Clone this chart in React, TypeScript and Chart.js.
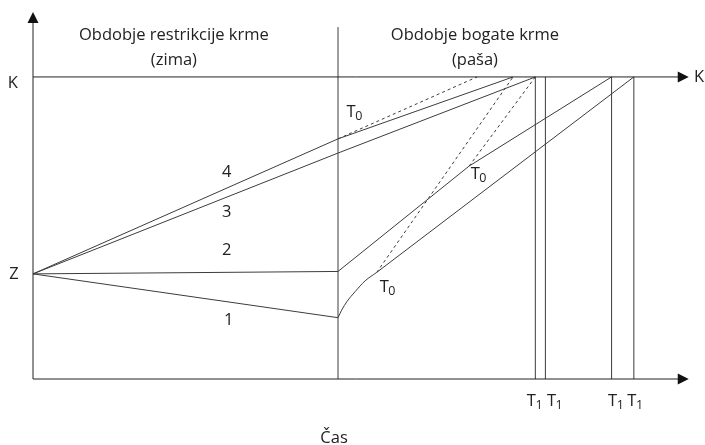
import React, { useEffect, useRef } from 'react';
import { Chart, registerables } from 'chart.js';

Chart.register(...registerables);

// Schematic units: x = time (0 = start, 100 = end of winter restriction), y = condition (100 = K)
const X_MAX = 215;
const Y_MAX = 121.5;
const K_VALUE = 100;
const WINTER_END = 100;
const DIVIDER_TOP = 116.5;
const Z_VALUE = 34.8;

// Curves 1-4: points (time, condition)
const LINE1_WINTER = [{ x: 0, y: Z_VALUE }, { x: 100, y: 20.3 }];
const LINE1_RECOVERY = [
  { x: 100, y: 20.3 }, { x: 101.2, y: 22.8 }, { x: 102.9, y: 25.6 },
  { x: 105.6, y: 28.9 }, { x: 108.9, y: 32.5 }, { x: 112.7, y: 35.3 },
];
const LINE1_GROWTH = [{ x: 112.7, y: 35.3 }, { x: 197, y: 100 }];
const LINE2 = [{ x: 0, y: Z_VALUE }, { x: 100, y: 35.6 }, { x: 143, y: 70.5 }, { x: 189.7, y: 100 }];
const LINE3 = [{ x: 0, y: Z_VALUE }, { x: 100, y: 74.8 }, { x: 164.7, y: 100 }];
const LINE4 = [{ x: 0, y: Z_VALUE }, { x: 100, y: 79.5 }, { x: 157.4, y: 100 }];

// Dashed reference lines from T0 points
const DASHED = [
  [{ x: 100, y: 79.5 }, { x: 145.6, y: 100 }],
  [{ x: 112.7, y: 35.3 }, { x: 157.4, y: 100 }],
  [{ x: 143, y: 70.5 }, { x: 164.7, y: 100 }],
];

// T1 times
const T1_TIMES = [164.7, 168, 189.7, 197];

const TITLE_LEFT = ['Obdobje restrikcije krme', '(zima)'];
const TITLE_RIGHT = ['Obdobje bogate krme', '(paša)'];
const CURVE_NAMES = ['1', '2', '3', '4'];
const CURVE_LABEL_POS = [
  { x: 64.2, y: 19.3 },
  { x: 63.5, y: 42.5 },
  { x: 63.5, y: 55.2 },
  { x: 63.5, y: 68.5 },
];
const T0_POS = [
  { x: 102.8, y: 86.7 },
  { x: 143.5, y: 66.2 },
  { x: 113.7, y: 28.8 },
];
const X_TITLE = 'Čas';

const LINE_COLOR = '#3c3c3c';
const TEXT_COLOR = '#222';
const FONT = '"Open Sans", sans-serif';
const FONT_SIZE = 16.5;

function seg(data: { x: number; y: number }[], extra: any = {}) {
  return {
    data,
    showLine: true,
    borderColor: LINE_COLOR,
    borderWidth: 1,
    pointRadius: 0,
    fill: false,
    clip: false,
    ...extra,
  };
}

export default function App() {
  const ref = useRef<HTMLCanvasElement>(null);

  useEffect(() => {
    if (!ref.current) return;

    const datasets: any[] = [
      // axes & guide lines
      seg([{ x: 0, y: 0 }, { x: 0, y: Y_MAX - 3 }], { borderColor: '#222' }),
      seg([{ x: 0, y: 0 }, { x: X_MAX - 3, y: 0 }], { borderColor: '#222' }),
      seg([{ x: 0, y: K_VALUE }, { x: X_MAX - 3, y: K_VALUE }], { borderColor: '#222' }),
      seg([{ x: WINTER_END, y: 0 }, { x: WINTER_END, y: DIVIDER_TOP }]),
      ...T1_TIMES.map((t) => seg([{ x: t, y: 0 }, { x: t, y: K_VALUE }])),
      // curves
      seg(LINE1_WINTER),
      seg(LINE1_RECOVERY, { cubicInterpolationMode: 'monotone' }),
      seg(LINE1_GROWTH),
      seg(LINE2),
      seg(LINE3),
      seg(LINE4),
      ...DASHED.map((d) => seg(d, { borderDash: [3, 3] })),
    ];

    const annot = {
      id: 'annot',
      afterDatasetsDraw(chart: any) {
        const ctx = chart.ctx;
        const xs = chart.scales.x;
        const ys = chart.scales.y;
        const px = (v: number) => xs.getPixelForValue(v);
        const py = (v: number) => ys.getPixelForValue(v);
        ctx.save();
        // arrowheads
        ctx.fillStyle = '#111';
        const arrowH = (x: number, y: number) => {
          ctx.beginPath();
          ctx.moveTo(x, y);
          ctx.lineTo(x - 11, y - 5.5);
          ctx.lineTo(x - 11, y + 5.5);
          ctx.closePath();
          ctx.fill();
        };
        arrowH(px(X_MAX), py(0));
        arrowH(px(X_MAX), py(K_VALUE));
        ctx.beginPath();
        ctx.moveTo(px(0), py(Y_MAX));
        ctx.lineTo(px(0) - 5.5, py(Y_MAX) + 11);
        ctx.lineTo(px(0) + 5.5, py(Y_MAX) + 11);
        ctx.closePath();
        ctx.fill();

        ctx.fillStyle = TEXT_COLOR;
        ctx.font = `${FONT_SIZE}px ${FONT}`;
        ctx.textAlign = 'center';
        ctx.textBaseline = 'middle';
        // titles
        ctx.fillText(TITLE_LEFT[0], px(46.2), py(113.9));
        ctx.fillText(TITLE_LEFT[1], px(46.2), py(105.6));
        ctx.fillText(TITLE_RIGHT[0], px(144.9), py(113.9));
        ctx.fillText(TITLE_RIGHT[1], px(144.9), py(105.6));
        // K, Z
        ctx.fillText('K', px(-6.6), py(97.8));
        ctx.fillText('K', px(218.4), py(K_VALUE));
        ctx.fillText('Z', px(-6.2), py(Z_VALUE));
        // curve numbers
        CURVE_NAMES.forEach((n, i) => ctx.fillText(n, px(CURVE_LABEL_POS[i].x), py(CURVE_LABEL_POS[i].y)));
        // x title
        ctx.fillText(X_TITLE, px(98.7), py(-19.5));

        // subscript labels
        ctx.textAlign = 'left';
        ctx.textBaseline = 'alphabetic';
        const sub = (x: number, y: number, s: string) => {
          ctx.font = `${FONT_SIZE}px ${FONT}`;
          ctx.fillText('T', x, y);
          const w = ctx.measureText('T').width;
          ctx.font = `12.5px ${FONT}`;
          ctx.fillText(s, x + w - 0.5, y + 3);
        };
        T0_POS.forEach((p) => sub(px(p.x), py(p.y), '0'));
        T1_TIMES.forEach((t, i) => {
          const offs = [-8.5, 1.5, -3.5, -6.5][i];
          sub(px(t) + offs, py(-8.8), '1');
        });
        ctx.restore();
      },
    };

    const chart = new Chart(ref.current, {
      type: 'scatter',
      data: { datasets },
      options: {
        animation: false,
        responsive: false,
        events: [],
        layout: { padding: { left: 33, right: 16.25, top: 12, bottom: 66 } },
        scales: {
          x: { type: 'linear', min: 0, max: X_MAX, display: false },
          y: { type: 'linear', min: 0, max: Y_MAX, display: false },
        },
        plugins: { legend: { display: false }, tooltip: { enabled: false } },
      },
      plugins: [annot],
    });
    return () => chart.destroy();
  }, []);

  return (
    <div style={{ position: 'absolute', left: 0, top: 0, width: 705, height: 445, background: '#fff' }}>
      <canvas ref={ref} width={705} height={445} />
    </div>
  );
}
